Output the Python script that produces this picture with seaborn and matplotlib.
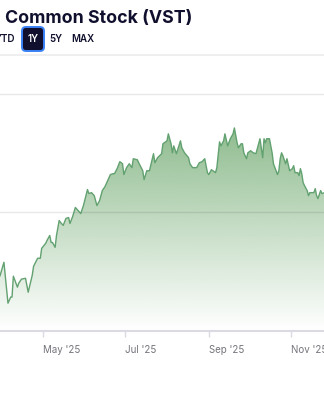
import matplotlib
matplotlib.use('Agg')
import matplotlib.pyplot as plt
import matplotlib.dates as mdates
from matplotlib.colors import to_rgb
from matplotlib.lines import Line2D
from matplotlib.patches import FancyBboxPatch
from matplotlib.transforms import IdentityTransform
import seaborn as sns
import numpy as np
import pandas as pd

# ── Data ──────────────────────────────────────────────────────────────────────
dates = [
    '2025-03-30', '2025-04-02', '2025-04-05', '2025-04-07', '2025-04-08', '2025-04-09',
    '2025-04-12', '2025-04-13', '2025-04-15', '2025-04-18', '2025-04-20', '2025-04-23',
    '2025-04-24', '2025-04-27', '2025-04-29', '2025-04-30', '2025-05-03', '2025-05-04',
    '2025-05-06', '2025-05-07', '2025-05-08', '2025-05-10', '2025-05-11', '2025-05-13',
    '2025-05-14', '2025-05-16', '2025-05-18', '2025-05-20', '2025-05-21', '2025-05-23',
    '2025-05-25', '2025-05-27', '2025-05-29', '2025-05-31', '2025-06-03', '2025-06-04',
    '2025-06-06', '2025-06-08', '2025-06-10', '2025-06-12', '2025-06-14', '2025-06-16',
    '2025-06-18', '2025-06-20', '2025-06-22', '2025-06-23', '2025-06-25', '2025-06-27',
    '2025-06-29', '2025-06-30', '2025-07-02', '2025-07-04', '2025-07-06', '2025-07-07',
    '2025-07-10', '2025-07-11', '2025-07-14', '2025-07-15', '2025-07-17', '2025-07-19',
    '2025-07-22', '2025-07-23', '2025-07-25', '2025-07-28', '2025-07-29', '2025-07-31',
    '2025-08-01', '2025-08-02', '2025-08-04', '2025-08-05', '2025-08-06', '2025-08-08',
    '2025-08-11', '2025-08-12', '2025-08-14', '2025-08-17', '2025-08-18', '2025-08-20',
    '2025-08-23', '2025-08-25', '2025-08-27', '2025-08-29', '2025-08-31', '2025-09-01',
    '2025-09-03', '2025-09-06', '2025-09-07', '2025-09-09', '2025-09-10', '2025-09-12',
    '2025-09-13', '2025-09-15', '2025-09-17', '2025-09-19', '2025-09-20', '2025-09-22',
    '2025-09-23', '2025-09-25', '2025-09-26', '2025-09-27', '2025-09-29', '2025-09-30',
    '2025-10-02', '2025-10-04', '2025-10-06', '2025-10-08', '2025-10-09', '2025-10-11',
    '2025-10-12', '2025-10-13', '2025-10-14', '2025-10-16', '2025-10-18', '2025-10-19',
    '2025-10-22', '2025-10-23', '2025-10-24', '2025-10-25', '2025-10-26', '2025-10-28',
    '2025-10-29', '2025-10-31', '2025-11-02', '2025-11-03', '2025-11-04', '2025-11-06',
    '2025-11-07', '2025-11-08', '2025-11-09', '2025-11-10', '2025-11-11', '2025-11-13',
    '2025-11-14', '2025-11-15', '2025-11-17', '2025-11-18', '2025-11-19', '2025-11-20',
    '2025-11-21', '2025-11-23', '2025-11-24', '2025-11-26',
]
prices = [
    117.0, 126.4, 98.8, 102.9, 102.9, 117.0,
    109.6, 112.3, 115.0, 115.6, 106.2, 117.6,
    123.7, 129.1, 129.1, 135.8, 139.2, 141.2,
    144.5, 139.8, 139.8, 136.5, 144.5, 154.6,
    153.3, 151.3, 156.0, 156.6, 152.6, 157.3,
    163.4, 161.3, 159.3, 164.7, 175.5, 172.8,
    173.4, 171.4, 164.7, 168.1, 174.8, 177.5,
    181.5, 185.6, 186.2, 186.2, 189.6, 194.3,
    192.9, 185.6, 190.3, 192.9, 190.3, 196.3,
    195.6, 193.6, 188.2, 182.2, 188.2, 188.2,
    199.7, 193.6, 197.0, 199.7, 206.4, 207.7,
    208.4, 213.1, 206.4, 200.3, 205.0, 199.7,
    208.4, 203.7, 200.3, 197.0, 192.9, 190.3,
    190.3, 193.6, 194.3, 196.3, 186.9, 185.6,
    188.9, 186.9, 190.3, 207.7, 205.0, 208.4,
    213.1, 205.0, 209.8, 213.1, 217.1, 207.1,
    203.7, 206.4, 206.4, 200.3, 196.3, 200.3,
    201.7, 200.3, 199.7, 206.4, 209.8, 197.0,
    209.8, 207.1, 209.8, 209.8, 200.3, 192.9,
    185.6, 188.2, 196.3, 200.3, 198.3, 192.9,
    196.3, 188.2, 189.6, 191.6, 186.9, 186.9,
    184.9, 189.6, 186.2, 180.2, 178.2, 174.8,
    171.4, 173.4, 173.4, 173.4, 176.1, 171.4,
    169.4, 174.8, 172.8, 173.4,
]
tick_dates = ['2025-05-01', '2025-07-01', '2025-09-01', '2025-11-01']
grid_levels = [160, 240]
y_floor = 80
x_range = ['2025-03-30 02:00', '2025-11-25 12:00']
title = 'Common Stock (VST)'
range_buttons = ['YTD', '1Y', '5Y', 'MAX']

LINE = '#62a170'
FILL = '#8fbc8f'
NAVY = '#10102e'

# ── Setup ──────────────────────────────────────────────────────────────────────
sns.set_style('white')
plt.rcParams['font.family'] = ['Inter', 'DejaVu Sans']

df = pd.DataFrame({'date': pd.to_datetime(dates), 'price': prices})

W, H = 324, 400
fig = plt.figure(figsize=(W / 100, H / 100), dpi=100)
ax = fig.add_axes([0, 69 / H, 1, 237 / H])

# ── Price line + gradient area ─────────────────────────────────────────────────
sns.lineplot(data=df, x='date', y='price', ax=ax, color=LINE, linewidth=1.0,
             estimator=None, zorder=4)

poly = ax.fill_between(df['date'], df['price'], y_floor,
                       facecolor='none', edgecolor='none')
grad = np.zeros((256, 1, 4))
grad[:, 0, :3] = to_rgb(FILL)
grad[:, 0, 3] = np.linspace(0, 1, 256)
xnum = mdates.date2num(df['date'])
im = ax.imshow(grad, extent=[xnum.min(), xnum.max(), y_floor, df['price'].max()],
               aspect='auto', origin='lower', zorder=2)
im.set_clip_path(poly.get_paths()[0], transform=ax.transData)

for lv in grid_levels:
    ax.axhline(lv, color='black', alpha=0.09, linewidth=1, zorder=3, clip_on=False)
ax.axhline(y_floor, color='#dadae2', linewidth=1.5, zorder=5, clip_on=False)

ax.set_xlim(pd.Timestamp(x_range[0]), pd.Timestamp(x_range[1]))
ax.set_ylim(y_floor, grid_levels[-1])
for s in ax.spines.values():
    s.set_visible(False)

ax.set_xticks(pd.to_datetime(tick_dates))
ax.xaxis.set_major_formatter(mdates.DateFormatter("%b '%y"))
ax.tick_params(axis='x', bottom=True, length=4, width=1, color='#dadae2',
               pad=6, labelsize=7, labelcolor='#74747c')
plt.setp(ax.get_xticklabels(), ha='left')
ax.set_yticks([])
ax.set_xlabel('')
ax.set_ylabel('')

# ── Header ────────────────────────────────────────────────────────────────────
fig.text(5 / W, 1 - 23 / H, title, fontsize=12.8, fontweight='bold',
         color=NAVY, va='baseline')

btn = FancyBboxPatch((22, H - 51), 22, 24, boxstyle='round,pad=0,rounding_size=4',
                     facecolor=NAVY, edgecolor='#3b82f6', linewidth=1.4,
                     transform=IdentityTransform())
fig.add_artist(btn)
btn_pos = [(15, 'right'), (33, 'center'), (56, 'center'), (83, 'center')]
for label, (bx, ha) in zip(range_buttons, btn_pos):
    fig.text(bx / W, 1 - 39 / H, label, fontsize=7, fontweight='semibold',
             color='white' if label == '1Y' else NAVY, ha=ha, va='center')

fig.add_artist(Line2D([0, 1], [1 - 54.5 / H] * 2, transform=fig.transFigure,
                      color='#ececec', linewidth=1.2))

plt.savefig('out.png', dpi=100)
plt.close()
